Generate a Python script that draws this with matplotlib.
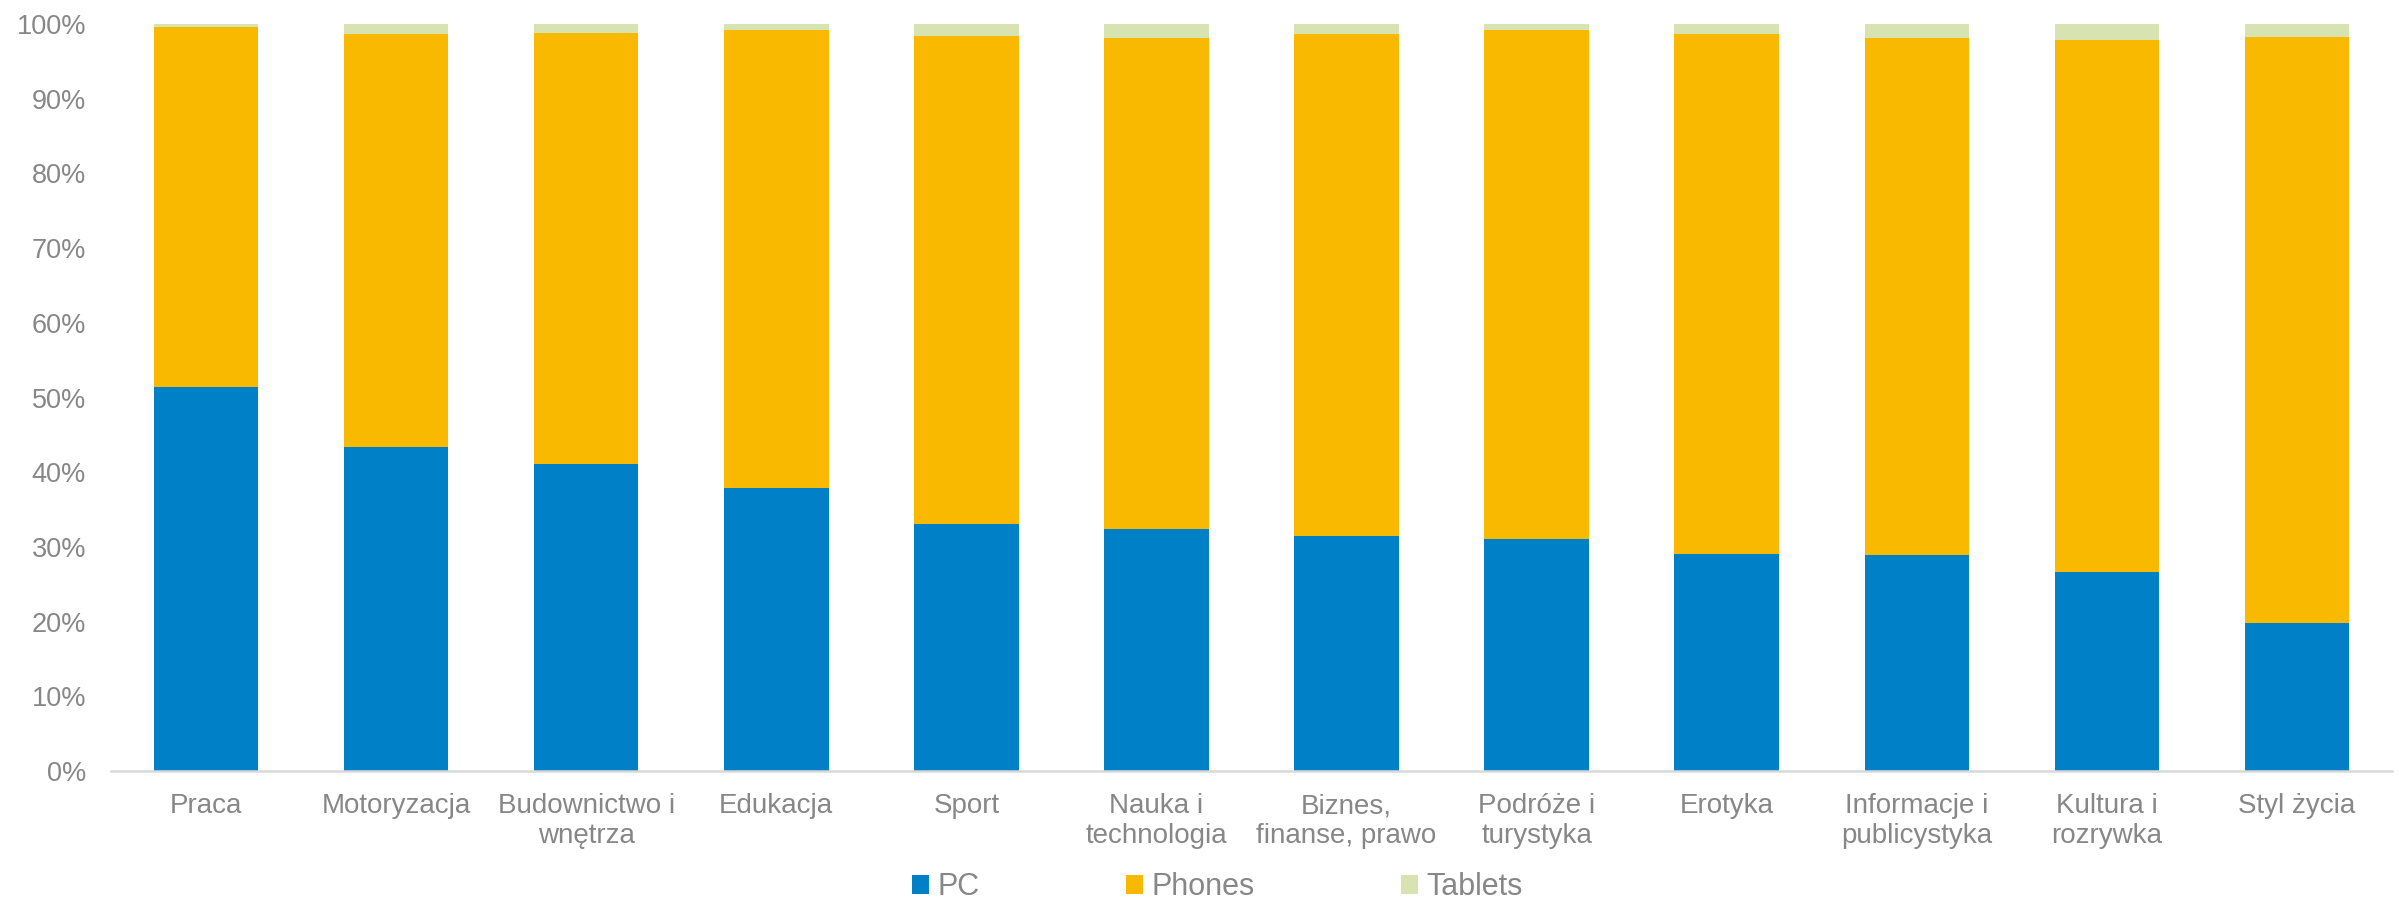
import matplotlib
matplotlib.use("Agg")
import matplotlib.pyplot as plt
import numpy as np
from matplotlib.ticker import PercentFormatter

# Share of traffic by device, per content category (percent)
categories = [
    "Praca", "Motoryzacja", "Budownictwo i\nwnętrza", "Edukacja", "Sport",
    "Nauka i\ntechnologia", "Biznes,\nfinanse, prawo", "Podróże i\nturystyka",
    "Erotyka", "Informacje i\npublicystyka", "Kultura i\nrozrywka", "Styl życia",
]
pc = [51.4, 43.4, 41.1, 37.9, 33.0, 32.4, 31.4, 31.1, 29.0, 28.9, 26.7, 19.8]
tablets = [0.4, 1.3, 1.25, 0.8, 1.6, 1.9, 1.4, 0.8, 1.4, 1.9, 2.2, 1.7]
phones = [100 - p - t for p, t in zip(pc, tablets)]

series_names = ["PC", "Phones", "Tablets"]
colors = ["#0080C6", "#F8B900", "#D7E4B2"]
text_color = "#878787"

plt.rcParams["font.family"] = ["Liberation Sans", "DejaVu Sans"]

fig = plt.figure(figsize=(23.99, 9.01), dpi=100)
ax = fig.add_axes([111 / 2399, 1 - 771 / 901, (2392 - 111) / 2399, (771 - 24) / 901])

x = np.arange(len(categories))
width = 0.55
bottom = np.zeros(len(categories))
for name, vals, col in zip(series_names, [pc, phones, tablets], colors):
    vals = np.array(vals)
    ax.bar(x, vals, width, bottom=bottom, color=col, label=name, linewidth=0)
    bottom += vals

ax.set_xlim(-0.5, len(categories) - 0.5)
ax.set_ylim(0, 100)
ax.set_yticks(np.arange(0, 101, 10))
ax.yaxis.set_major_formatter(PercentFormatter(decimals=0))
ax.set_xticks(x)
ax.set_xticklabels(categories, linespacing=1.2)

ax.tick_params(axis="y", length=0, pad=18, labelsize=19.5, labelcolor=text_color)
ax.tick_params(axis="x", length=0, pad=16, labelsize=20, labelcolor=text_color)

for s in ["top", "right", "left"]:
    ax.spines[s].set_visible(False)
ax.spines["bottom"].set_color("#D9D9D9")
ax.spines["bottom"].set_linewidth(1.8)

leg = fig.legend(
    loc="center", bbox_to_anchor=(1217.5 / 2399, 0.015), ncol=3, frameon=False,
    fontsize=22, handlelength=0.55, handleheight=0.55, handletextpad=0.27,
    columnspacing=4.8, borderpad=0, borderaxespad=0,
)
for t in leg.get_texts():
    t.set_color(text_color)

fig.savefig("out.png", dpi=100)
